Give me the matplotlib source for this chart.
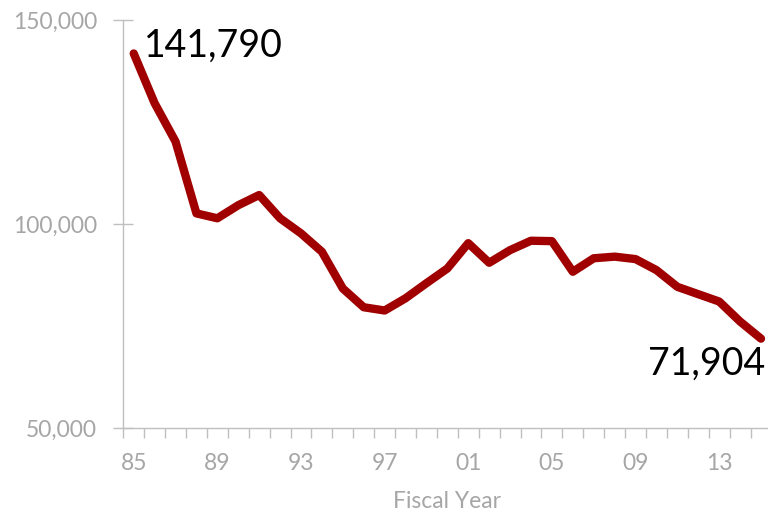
import matplotlib
matplotlib.use('Agg')
import matplotlib.pyplot as plt
from matplotlib.ticker import FuncFormatter

plt.rcParams['font.family'] = ['Lato', 'DejaVu Sans']

# Fiscal years 1985-2015 and values
years = list(range(1985, 2016))
values = [141790, 129600, 120200, 102600, 101400, 104600, 107100, 101400,
          97700, 93200, 84200, 79600, 78800, 81800, 85500, 89100,
          95300, 90500, 93600, 95900, 95800, 88300, 91600, 92000,
          91400, 88700, 84600, 82800, 81000, 76100, 71904]
tick_years = [1985, 1989, 1993, 1997, 2001, 2005, 2009, 2013]

LINE = '#A00000'
GREY = '#A6A6A6'
AXIS = '#BFBFBF'

fig = plt.figure(figsize=(7.68, 5.12), dpi=100)
ax = fig.add_axes([0.1605, 0.164, 0.844, 0.797])

idx = list(range(len(years)))
ax.plot(idx, values, color=LINE, lw=6, solid_capstyle='round',
        solid_joinstyle='round', clip_on=False)

ax.set_xlim(-0.5, len(years) - 0.5)
ax.set_ylim(50000, 150000)

# category axis: ticks between categories, labels every 4 years
ax.set_xticks([i - 0.5 for i in range(len(years) + 1)], minor=True)
ax.set_xticks([years.index(y) for y in tick_years])
ax.set_xticklabels([f'{y % 100:02d}' for y in tick_years])
ax.tick_params(axis='x', which='major', length=0, pad=18, labelsize=16.5,
               labelcolor=GREY)
ax.tick_params(axis='x', which='minor', length=7, width=1, color=AXIS,
               direction='out')

ax.set_yticks([50000, 100000, 150000])
ax.yaxis.set_major_formatter(FuncFormatter(lambda v, p: f'{int(v):,}'))
ax.tick_params(axis='y', length=14, width=1, color=AXIS, direction='inout',
               pad=12, labelsize=16.5, labelcolor=GREY)

for s in ['top', 'right']:
    ax.spines[s].set_visible(False)
for s in ['left', 'bottom']:
    ax.spines[s].set_color(AXIS)
    ax.spines[s].set_linewidth(1)

ax.set_xlabel('Fiscal Year', fontsize=16.5, color=GREY, labelpad=12)

# end-point labels
ax.text(0.5, 140900, f'{values[0]:,}', fontsize=27,
        color='black', ha='left', va='baseline')
ax.text(len(years) - 0.78, 63000, f'{values[-1]:,}', fontsize=27,
        color='black', ha='right', va='baseline')

fig.savefig('out.png', dpi=100)
